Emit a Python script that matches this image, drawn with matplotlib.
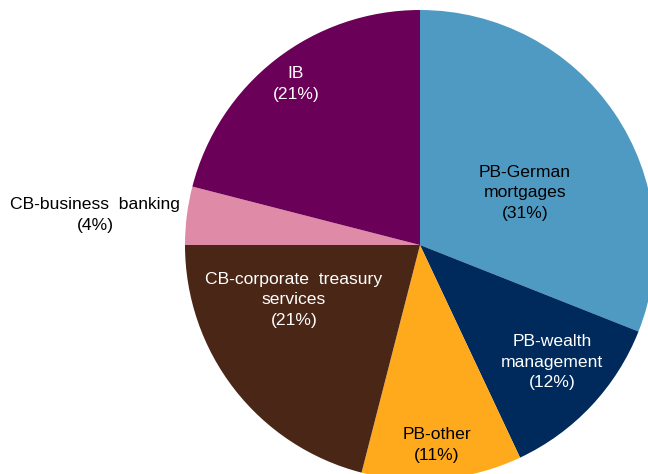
import matplotlib
matplotlib.use("Agg")
import matplotlib.pyplot as plt

labels = ["PB-German\nmortgages", "PB-wealth\nmanagement", "PB-other",
          "CB-corporate  treasury\nservices", "CB-business  banking", "IB"]
shares = [31, 12, 11, 21, 4, 21]
colors = ["#4F9AC3", "#002A5C", "#FFAA1C", "#4A2616", "#DF8AA6", "#6A0057"]
text_colors = ["black", "white", "black", "white", "black", "white"]
label_pos = [(525, 193), (552, 362), (437, 445), (294, 300), (95, 215), (296, 84)]

W, H = 648, 474
fig = plt.figure(figsize=(W / 100, H / 100), dpi=100)
ax = fig.add_axes([0, 0, 1, 1])

cx, cy, r = 420, 245, 235
wedges, _ = ax.pie(shares, colors=colors, startangle=-90, counterclock=True,
                   center=(cx, cy), radius=r, frame=True,
                   wedgeprops=dict(linewidth=0))
ax.set_xlim(0, W)
ax.set_ylim(H, 0)
ax.set_aspect("equal")
ax.axis("off")

for lab, val, col, (x, y) in zip(labels, shares, text_colors, label_pos):
    ax.text(x, y, f"{lab}\n({val}%)", ha="center", va="center", color=col,
            fontsize=12.6, family="Liberation Sans", linespacing=1.42)

fig.savefig("out.png", dpi=100)
